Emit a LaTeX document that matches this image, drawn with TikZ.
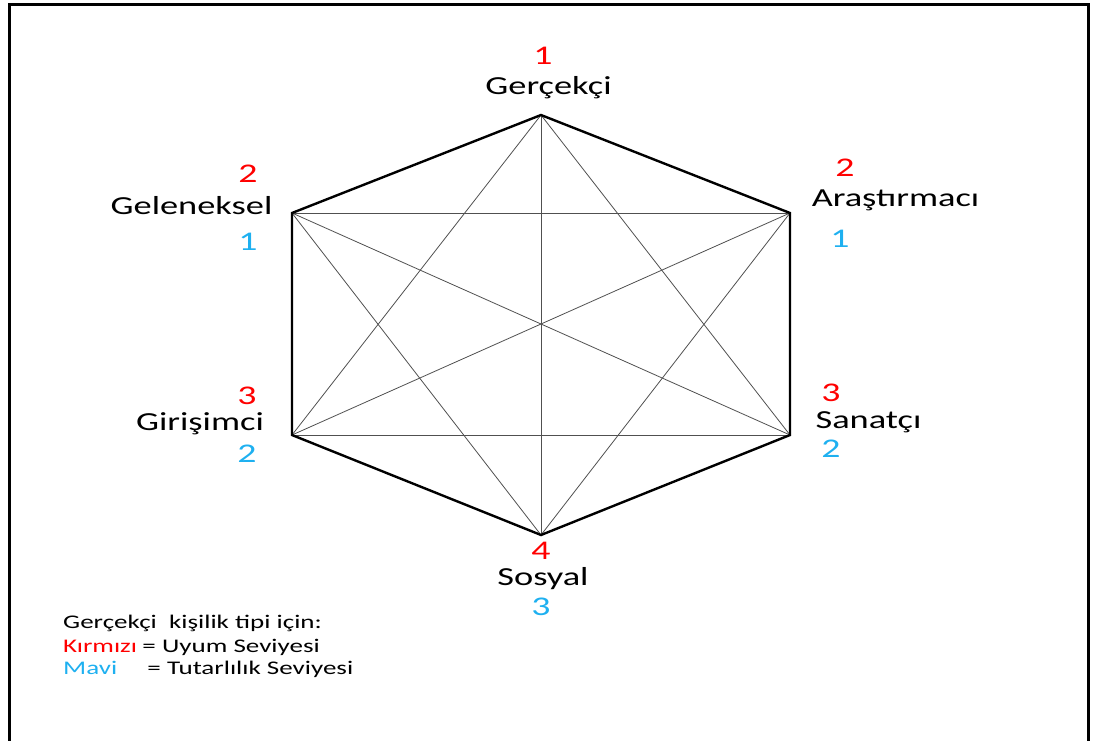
\documentclass[tikz,border=0pt]{standalone}
\usepackage{fontspec}
\setmainfont{Carlito}[FakeStretch=1.4]
\definecolor{numred}{HTML}{FF0000}
\definecolor{numblue}{HTML}{1EB0F0}
\definecolor{diag}{HTML}{505050}
\begin{document}
\begin{tikzpicture}[x=1pt,y=-1pt,
  edge/.style={line width=2.4pt,line join=miter},
  diagline/.style={line width=0.8pt,diag},
  lab/.style={anchor=base,inner sep=0pt,text height=0.66em,text depth=0.2em,font=\fontsize{26}{30}\selectfont},
  numstyle/.style={anchor=base,inner sep=0pt,text height=0.62em,text depth=0pt,font=\fontsize{27}{30}\selectfont},
  red num/.style={numstyle,text=numred},
  blue num/.style={numstyle,text=numblue},
  legend/.style={anchor=base west,inner sep=0pt,font=\fontsize{19.3}{22}\selectfont}]
\useasboundingbox (0,0) rectangle (1096,740);
% frame
\draw[line width=3pt] (9,760) -- (9,4) -- (1088.5,4) -- (1088.5,760);
% vertices
\coordinate (T) at (541,115);
\coordinate (UR) at (790,213);
\coordinate (LR) at (790,435);
\coordinate (B) at (541,535);
\coordinate (LL) at (292,435);
\coordinate (UL) at (292,213);
% diagonals
\draw[diagline] (T) -- (B);
\draw[diagline] (UL) -- (LR);
\draw[diagline] (UR) -- (LL);
\draw[diagline] (T) -- (LL);
\draw[diagline] (T) -- (LR);
\draw[diagline] (UL) -- (UR);
\draw[diagline] (LL) -- (LR);
\draw[diagline] (B) -- (UL);
\draw[diagline] (B) -- (UR);
% hexagon
\draw[edge] (T) -- (UR) -- (LR) -- (B) -- (LL) -- (UL) -- cycle;
% labels
\node[lab] (lT) at (548.5,94) {Gerçekçi};
\node[lab] (lUR) at (895.5,206) {Araştırmacı};
\node[lab] (lUL) at (191.5,214) {Geleneksel};
\node[lab] (lLL) at (200,430) {Girişimci};
\node[lab] (lLR) at (868.5,428) {Sanatçı};
\node[lab] (lB) at (543,585) {Sosyal};
% numbers
\node[red num] (rT) at (543,64) {1};
\node[red num] (rUR) at (845,176) {2};
\node[blue num] (bUR) at (840,247) {1};
\node[red num] (rUL) at (248,182) {2};
\node[blue num] (bUL) at (248,250) {1};
\node[red num] (rLL) at (247,404) {3};
\node[blue num] (bLL) at (247,462) {2};
\node[red num] (rLR) at (831,401) {3};
\node[blue num] (bLR) at (831,457) {2};
\node[red num] (rB) at (541,559) {4};
\node[blue num] (bB) at (541,615) {3};
% legend
\node[legend] (g1) at (63,628) {Gerçekçi\ \ kişilik tipi için:};
\node[legend,text=numred] (g2a) at (63,652) {Kırmızı};
\node[legend] (g2b) at ([xshift=5pt]g2a.base east) {= Uyum Seviyesi};
\node[legend,text=numblue] (g3a) at (63,674) {Mavi};
\node[legend] (g3b) at ([xshift=5pt]g2b.base west |- g3a.base) {= Tutarlılık Seviyesi};
\end{tikzpicture}
\end{document}
